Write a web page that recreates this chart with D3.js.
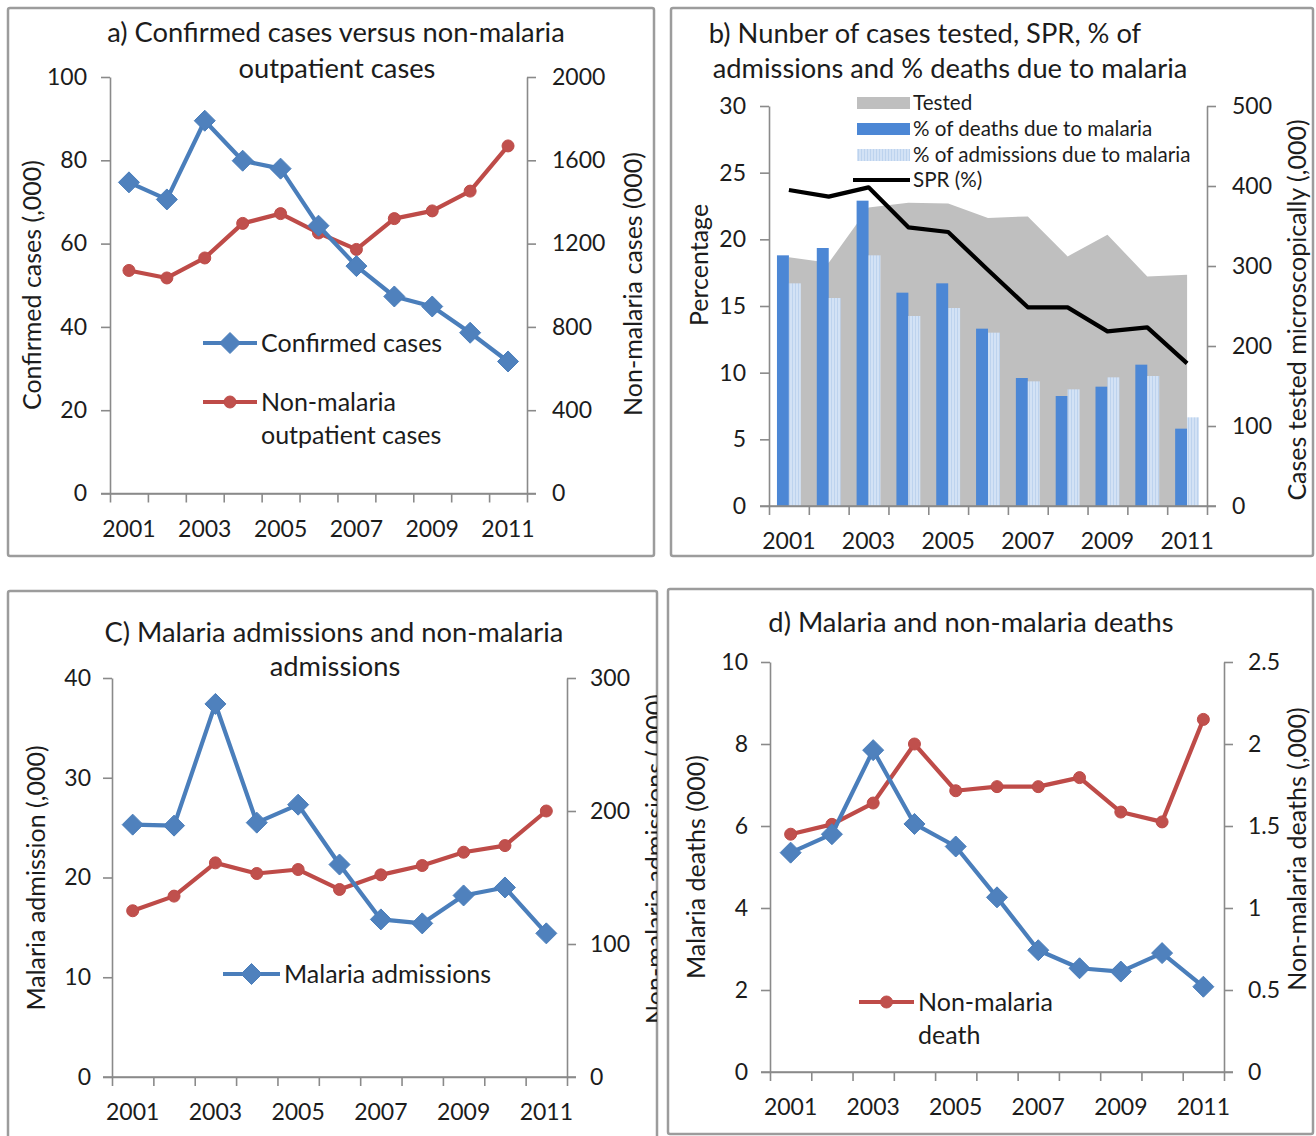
<!DOCTYPE html>
<html>
<head>
<meta charset="utf-8">
<script src="https://cdn.jsdelivr.net/npm/d3@7"></script>
<style>
  html, body { margin: 0; padding: 0; background: #fff; }
  svg text { font-family: Lato, "Open Sans", sans-serif; fill: #1c1c1c; }
</style>
</head>
<body>
<svg id="chart" width="1316" height="1136"></svg>
<script>
// ---------- DATA ----------
const years = [2001, 2002, 2003, 2004, 2005, 2006, 2007, 2008, 2009, 2010, 2011];
const xTickLabels = ["2001", "2003", "2005", "2007", "2009", "2011"];

// a) Confirmed cases (,000) and non-malaria outpatient cases (000)
const confirmedCases = [74.7, 70.6, 89.5, 79.9, 78.0, 64.3, 54.6, 47.3, 44.9, 38.6, 31.7];
const nonMalariaOutpatient = [1071, 1035, 1131, 1297, 1344, 1251, 1172, 1320, 1357, 1452, 1669];
const aLeftTicks = [0, 20, 40, 60, 80, 100];
const aRightTicks = [0, 400, 800, 1200, 1600, 2000];

// b) Tested (,000), % deaths due to malaria, % admissions due to malaria, SPR (%)
const testedCases = [311, 304, 373, 379, 378, 360, 362, 312, 339, 287, 289];
const deathsPct = [18.8, 19.35, 22.9, 16.0, 16.7, 13.3, 9.6, 8.25, 8.95, 10.6, 5.8];
const admissionsPct = [16.7, 15.6, 18.8, 14.25, 14.85, 13.0, 9.35, 8.75, 9.65, 9.75, 6.65];
const sprPct = [23.7, 23.2, 23.9, 20.9, 20.55, 17.7, 14.9, 14.9, 13.1, 13.4, 10.7];
const bLeftTicks = [0, 5, 10, 15, 20, 25, 30];
const bRightTicks = [0, 100, 200, 300, 400, 500];

// c) Malaria admissions (,000) and non-malaria admissions (,000)
const malariaAdmissions = [25.3, 25.2, 37.4, 25.5, 27.3, 21.3, 15.8, 15.4, 18.2, 19.0, 14.4];
const nonMalariaAdmissions = [125, 136, 161, 153, 156, 141, 152, 159, 169, 174, 200];
const cLeftTicks = [0, 10, 20, 30, 40];
const cRightTicks = [0, 100, 200, 300];

// d) Malaria deaths (000) and non-malaria deaths (,000)
const malariaDeaths = [5.35, 5.8, 7.85, 6.05, 5.5, 4.26, 2.97, 2.53, 2.45, 2.9, 2.08];
const nonMalariaDeaths = [1.45, 1.51, 1.64, 2.0, 1.715, 1.74, 1.74, 1.795, 1.585, 1.525, 2.15];
const dLeftTicks = [0, 2, 4, 6, 8, 10];
const dRightTicks = [0, 0.5, 1, 1.5, 2, 2.5];

// ---------- STYLE ----------
const AXIS = "#8a8a8a";
const BLUE_LINE = "#4A7EBB", BLUE_MARK = "#4F81BD";
const RED_LINE = "#BE4B48", RED_MARK = "#C0504D";
const BAR_DARK = "#4C87D5", AREA_GRAY = "#BFBFBF";
const TITLE_FS = 27.3, AXTITLE_FS = 25, LEGEND_FS = 25, TICK_FS = 23;

const svg = d3.select("#chart");
const defs = svg.append("defs");

// hatch pattern for light bars
const pat = defs.append("pattern").attr("id", "lightHatch")
  .attr("patternUnits", "userSpaceOnUse").attr("width", 3).attr("height", 3);
pat.append("rect").attr("width", 3).attr("height", 3).attr("fill", "#D3E2F5");
pat.append("rect").attr("width", 1).attr("height", 3).attr("fill", "#BDD3EE");

defs.append("clipPath").attr("id", "clipC")
  .append("rect").attr("x", 0).attr("y", 580).attr("width", 657).attr("height", 560);

// panel borders
const borders = [
  {x: 8, y: 8, w: 646, h: 548},
  {x: 671, y: 8, w: 642, h: 548},
  {x: 8, y: 591, w: 649, h: 560},
  {x: 668, y: 589, w: 645, h: 545}
];
svg.selectAll("rect.border").data(borders).join("rect")
  .attr("class", "border")
  .attr("x", d => d.x).attr("y", d => d.y).attr("width", d => d.w).attr("height", d => d.h)
  .attr("rx", 2).attr("fill", "none").attr("stroke", "#9c9c9c").attr("stroke-width", 2.5);

function diamond(r) { return `M0,${-r}L${r},0L0,${r}L${-r},0Z`; }

function makePanel(o) {
  const g = svg.append("g");
  const x = d3.scaleBand().domain(years).range([o.x0, o.x1]).padding(0);
  const xb = d3.scaleLinear().domain([0, years.length]).range([o.x0, o.x1]);
  const yL = d3.scaleLinear().domain([0, o.lMax]).range([o.yb, o.yt]);
  const yR = d3.scaleLinear().domain([0, o.rMax]).range([o.yb, o.yt]);
  const cx = d => x(d) + x.bandwidth() / 2;

  const styleAxis = sel => {
    sel.selectAll("path.domain").attr("stroke", AXIS).attr("stroke-width", 1.6);
    sel.selectAll(".tick line").attr("stroke", AXIS).attr("stroke-width", 1.6);
    sel.selectAll(".tick text").attr("font-size", TICK_FS).attr("fill", "#1c1c1c")
      .attr("font-family", "Lato, sans-serif");
  };
  const layerBack = g.append("g");
  const gl = g.append("g").attr("transform", `translate(${o.x0},0)`)
    .call(d3.axisLeft(yL).tickValues(o.lTicks).tickSize(9).tickSizeOuter(0).tickPadding(o.lPad || 12).tickFormat(d => String(d)));
  styleAxis(gl);
  const gr = g.append("g").attr("transform", `translate(${o.x1},0)`)
    .call(d3.axisRight(yR).tickValues(o.rTicks).tickSize(9).tickSizeOuter(0).tickPadding(o.rPad || 14).tickFormat(d => String(d)));
  styleAxis(gr);
  const gx = g.append("g").attr("transform", `translate(0,${o.yb})`)
    .call(d3.axisBottom(xb).tickValues(d3.range(0, years.length + 1)).tickSize(9).tickSizeOuter(0).tickFormat(""));
  styleAxis(gx);
  g.append("line").attr("x1", o.x0 - 9).attr("x2", o.x1 + 9).attr("y1", o.yb).attr("y2", o.yb)
    .attr("stroke", AXIS).attr("stroke-width", 1.6);

  g.selectAll("text.xl").data(xTickLabels).join("text").attr("class", "xl")
    .attr("x", d => cx(+d)).attr("y", o.yb + 35).attr("dy", "0.35em")
    .attr("text-anchor", "middle").attr("font-size", TICK_FS).text(d => d);

  o.title.forEach(t => {
    g.append("text").attr("x", t.x).attr("y", t.y).attr("dy", "0.35em")
      .attr("text-anchor", "middle").attr("font-size", TITLE_FS).text(t.text);
  });
  g.append("text").attr("transform", `translate(${o.lTitle.x},${o.lTitle.y}) rotate(-90)`)
    .attr("dy", "0.35em").attr("text-anchor", "middle").attr("font-size", AXTITLE_FS).text(o.lTitle.text);
  const rtWrap = g.append("g");
  if (o.rTitle.clip) rtWrap.attr("clip-path", `url(#${o.rTitle.clip})`);
  rtWrap.append("text").attr("transform", `translate(${o.rTitle.x},${o.rTitle.y}) rotate(-90)`)
    .attr("dy", "0.35em").attr("text-anchor", "middle").attr("font-size", AXTITLE_FS).text(o.rTitle.text);

  return {g, x, yL, yR, cx, layerBack};
}

function drawLine(p, values, scale, color, markColor, markerType) {
  const line = d3.line().x((d, i) => p.cx(years[i])).y(d => scale(d));
  p.g.append("path").datum(values).attr("d", line).attr("fill", "none")
    .attr("stroke", color).attr("stroke-width", 4.2).attr("stroke-linejoin", "round");
  const m = p.g.append("g");
  values.forEach((v, i) => {
    if (markerType === "diamond") {
      m.append("path").attr("d", diamond(10.5))
        .attr("transform", `translate(${p.cx(years[i])},${scale(v)})`)
        .attr("fill", markColor).attr("stroke", color).attr("stroke-width", 1);
    } else {
      m.append("circle").attr("cx", p.cx(years[i])).attr("cy", scale(v)).attr("r", 6)
        .attr("fill", markColor).attr("stroke", color).attr("stroke-width", 1);
    }
  });
}

function legendLine(x1, x2, y, color, markColor, type, lines) {
  const g = svg.append("g");
  g.append("line").attr("x1", x1).attr("x2", x2).attr("y1", y).attr("y2", y)
    .attr("stroke", color).attr("stroke-width", 4.2);
  const mx = (x1 + x2) / 2;
  if (type === "diamond") {
    g.append("path").attr("d", diamond(10.5)).attr("transform", `translate(${mx},${y})`)
      .attr("fill", markColor).attr("stroke", color);
  } else if (type === "circle") {
    g.append("circle").attr("cx", mx).attr("cy", y).attr("r", 6).attr("fill", markColor).attr("stroke", color);
  }
  lines.forEach((t, i) => {
    g.append("text").attr("x", x2 + 4).attr("y", y + i * 33.5).attr("dy", "0.35em")
      .attr("font-size", LEGEND_FS).text(t);
  });
}

// ---------- PANEL A ----------
const pa = makePanel({
  x0: 110, x1: 527, yb: 493.5, yt: 77, lMax: 100, rMax: 2000,
  lTicks: aLeftTicks, rTicks: aRightTicks, lPad: 14, rPad: 16,
  title: [{text: "a) Confirmed cases versus non-malaria", x: 336, y: 32},
          {text: "outpatient cases", x: 337, y: 68}],
  lTitle: {text: "Confirmed cases (,000)", x: 32, y: 285},
  rTitle: {text: "Non-malaria cases (000)", x: 633, y: 284}
});
drawLine(pa, nonMalariaOutpatient, pa.yR, RED_LINE, RED_MARK, "circle");
drawLine(pa, confirmedCases, pa.yL, BLUE_LINE, BLUE_MARK, "diamond");
legendLine(203, 257, 343, BLUE_LINE, BLUE_MARK, "diamond", ["Confirmed cases"]);
legendLine(203, 257, 402, RED_LINE, RED_MARK, "circle", ["Non-malaria", "outpatient cases"]);

// ---------- PANEL B ----------
const pb = makePanel({
  x0: 769, x1: 1207, yb: 506, yt: 106, lMax: 30, rMax: 500,
  lTicks: bLeftTicks, rTicks: bRightTicks, lPad: 14, rPad: 16,
  title: [{text: "b) Nunber of cases tested, SPR, % of", x: 925, y: 33},
          {text: "admissions and % deaths due to malaria", x: 950, y: 68}],
  lTitle: {text: "Percentage", x: 699, y: 265},
  rTitle: {text: "Cases tested  microscopically (,000)", x: 1297, y: 310}
});
{
  const area = d3.area().x((d, i) => pb.cx(years[i])).y0(pb.yR(0)).y1(d => pb.yR(d));
  pb.layerBack.append("path").datum(testedCases).attr("d", area).attr("fill", AREA_GRAY);
  const bw = pb.x.bandwidth() * 0.3;
  pb.layerBack.selectAll("rect.dk").data(deathsPct).join("rect").attr("class", "dk")
    .attr("x", (d, i) => pb.cx(years[i]) - bw).attr("width", bw)
    .attr("y", d => pb.yL(d)).attr("height", d => pb.yL(0) - pb.yL(d)).attr("fill", BAR_DARK);
  pb.layerBack.selectAll("rect.lt").data(admissionsPct).join("rect").attr("class", "lt")
    .attr("x", (d, i) => pb.cx(years[i])).attr("width", bw)
    .attr("y", d => pb.yL(d)).attr("height", d => pb.yL(0) - pb.yL(d)).attr("fill", "url(#lightHatch)");
  const line = d3.line().x((d, i) => pb.cx(years[i])).y(d => pb.yL(d));
  pb.g.append("path").datum(sprPct).attr("d", line).attr("fill", "none")
    .attr("stroke", "#000").attr("stroke-width", 4.2).attr("stroke-linejoin", "round");
  const lg = svg.append("g");
  const items = [
    {label: "Tested", y: 103, type: "area"},
    {label: "% of deaths due to malaria", y: 129, type: "dark"},
    {label: "% of admissions due to malaria", y: 155, type: "light"},
    {label: "SPR (%)", y: 180, type: "line"}
  ];
  items.forEach(it => {
    if (it.type === "line") {
      lg.append("line").attr("x1", 853).attr("x2", 910).attr("y1", it.y).attr("y2", it.y)
        .attr("stroke", "#000").attr("stroke-width", 4.2);
    } else {
      lg.append("rect").attr("x", 857).attr("y", it.y - 6).attr("width", 53).attr("height", 12)
        .attr("fill", it.type === "area" ? AREA_GRAY : it.type === "dark" ? BAR_DARK : "url(#lightHatch)");
    }
    lg.append("text").attr("x", 913).attr("y", it.y).attr("dy", "0.35em")
      .attr("font-size", 20.6).text(it.label);
  });
}

// ---------- PANEL C ----------
const pc = makePanel({
  x0: 112, x1: 567, yb: 1077, yt: 678, lMax: 40, rMax: 300,
  lTicks: cLeftTicks, rTicks: cRightTicks, lPad: 12, rPad: 14,
  title: [{text: "C) Malaria admissions and non-malaria", x: 334, y: 632},
          {text: "admissions", x: 335, y: 666}],
  lTitle: {text: "Malaria admission (,000)", x: 36, y: 878},
  rTitle: {text: "Non-malaria admissions (,000)", x: 655, y: 859, clip: "clipC"}
});
drawLine(pc, nonMalariaAdmissions, pc.yR, RED_LINE, RED_MARK, "circle");
drawLine(pc, malariaAdmissions, pc.yL, BLUE_LINE, BLUE_MARK, "diamond");
legendLine(223, 280, 974, BLUE_LINE, BLUE_MARK, "diamond", ["Malaria admissions"]);

// ---------- PANEL D ----------
const pd = makePanel({
  x0: 770, x1: 1224, yb: 1072, yt: 662, lMax: 10, rMax: 2.5,
  lTicks: dLeftTicks, rTicks: dRightTicks, lPad: 13, rPad: 15,
  title: [{text: "d) Malaria and non-malaria deaths", x: 971, y: 622}],
  lTitle: {text: "Malaria deaths (000)", x: 696, y: 867},
  rTitle: {text: "Non-malaria deaths (,000)", x: 1297, y: 849}
});
drawLine(pd, nonMalariaDeaths, pd.yR, RED_LINE, RED_MARK, "circle");
drawLine(pd, malariaDeaths, pd.yL, BLUE_LINE, BLUE_MARK, "diamond");
legendLine(859, 914, 1002, RED_LINE, RED_MARK, "circle", ["Non-malaria", "death"]);
</script>
</body>
</html>
